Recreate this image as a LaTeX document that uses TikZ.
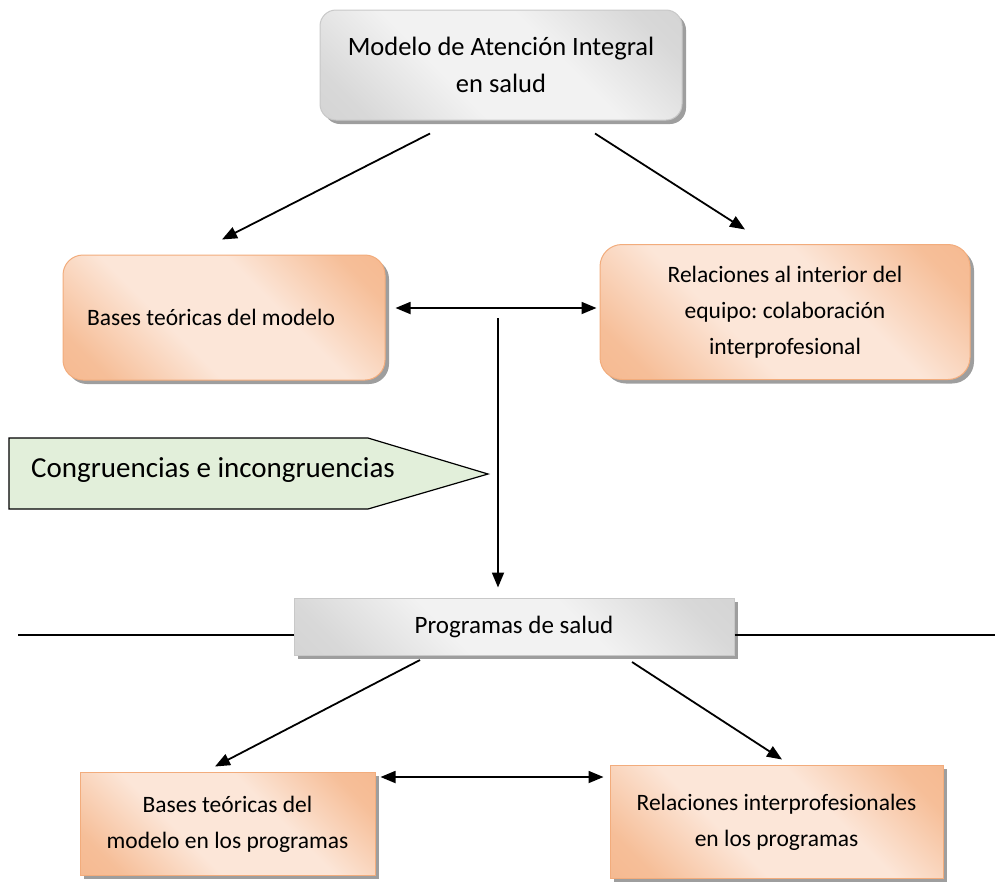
\documentclass[tikz,border=0pt]{standalone}
\usepackage{fontspec}
\setmainfont{Carlito}
\frenchspacing
\usetikzlibrary{arrows.meta,shadows,calc}
\definecolor{orD}{HTML}{F4B183}
\definecolor{orL}{HTML}{FCE6D8}
\definecolor{orB}{HTML}{F2AC7C}
\definecolor{grD}{HTML}{CDCDCD}
\definecolor{grL}{HTML}{F2F2F2}
\definecolor{grB}{HTML}{C8C8C8}
\definecolor{grn}{HTML}{E2EFDA}
\pgfdeclarehorizontalshading{peach}{100bp}{color(0bp)=(orD);color(22bp)=(orD!75!orL);color(40bp)=(orL);color(60bp)=(orL);color(78bp)=(orD!75!orL);color(100bp)=(orD)}
\pgfdeclarehorizontalshading{silver}{100bp}{color(0bp)=(grD);color(22bp)=(grD!70!grL);color(40bp)=(grL);color(60bp)=(grL);color(78bp)=(grD!70!grL);color(100bp)=(grD)}
\tikzset{
  arr/.style={line width=1.8pt,-{Triangle[length=15pt,width=12pt]}},
  darr/.style={line width=1.8pt,{Triangle[length=15pt,width=12pt]}-{Triangle[length=15pt,width=12pt]}},
  shad/.style={drop shadow={shadow xshift=4pt,shadow yshift=-4pt,fill=black!38,opacity=1}},
  orbox/.style={shad,draw=orB,line width=1pt,shading=peach,shading angle=45,align=center,inner sep=0pt},
  grbox/.style={shad,draw=grB,line width=1pt,shading=silver,shading angle=45,align=center,inner sep=0pt},
  midfont/.style={font=\fontsize{23.5}{36}\selectfont},
}
\newcommand{\twolines}[2]{\raisebox{#1}{\begin{tabular}{@{}c@{}}#2\end{tabular}}}
\begin{document}
\begin{tikzpicture}[x=1pt,y=-1pt]
\useasboundingbox (0,0) rectangle (995,884);

% boxes
\node[grbox,rounded corners=16pt,minimum width=362pt,minimum height=110pt,font=\fontsize{26.5}{37}\selectfont] (top) at (501,65) {Modelo de Atención Integral\\en salud};
\node[orbox,rounded corners=20pt,minimum width=322pt,minimum height=125pt,midfont] (lb) at (224,317.5) {\hspace*{-26pt}Bases teóricas del modelo};
\node[orbox,rounded corners=22pt,minimum width=370pt,minimum height=135pt,midfont] (rb) at (785,312) {Relaciones al interior del\\equipo: colaboración\\interprofesional};
\node[grbox,minimum width=440pt,minimum height=57pt,font=\fontsize{25}{30}\selectfont] (prog) at (514,626.5) {Programas de salud};
\node[orbox,minimum width=295pt,minimum height=103pt,midfont] (bl) at (227.5,823.5) {\twolines{5pt}{Bases teóricas del\\modelo en los programas}};
\node[orbox,minimum width=333pt,minimum height=113pt,midfont] (br) at (776.5,821.5) {\twolines{10pt}{Relaciones interprofesionales\\en los programas}};

% pentagon arrow label
\draw[fill=grn,line width=1.2pt] (9,438) -- (368,438) -- (488,474) -- (368,509) -- (9,509) -- cycle;
\node[font=\fontsize{29}{34}\selectfont,anchor=west,inner sep=0pt] (cong) at (31,470) {Congruencias e incongruencias};

% horizontal line through programas
\coordinate (hl) at (18,635);
\coordinate (hr) at (995,635);
\draw[line width=1.5pt] (hl) -- (hl -| prog.west);
\draw[line width=1.5pt] (prog.east |- hr) -- (hr);

% connectors
\draw[arr] ([xshift=-71pt,yshift=-13pt]top.south) -- ([xshift=-2pt,yshift=15pt]lb.north);
\draw[arr] ([xshift=94pt,yshift=-13pt]top.south) -- ([xshift=-40pt,yshift=14.5pt]rb.north);
\draw[darr] ([xshift=10pt,yshift=9.5pt]lb.east) -- ([xshift=-3pt,yshift=4pt]rb.west);
\coordinate (vtop) at (498,318);
\draw[arr] (vtop) -- ([xshift=-16pt,yshift=10pt]prog.north);
\draw[arr] ([xshift=-94pt,yshift=-4.5pt]prog.south) -- ([xshift=-12.5pt,yshift=5pt]bl.north);
\draw[arr] ([xshift=118pt,yshift=-6.5pt]prog.south) -- ([xshift=5.5pt,yshift=5pt]br.north);
\draw[darr] ([xshift=5pt,yshift=46.5pt]bl.east) -- ([xshift=-6pt,yshift=44.5pt]br.west);
\end{tikzpicture}
\end{document}
